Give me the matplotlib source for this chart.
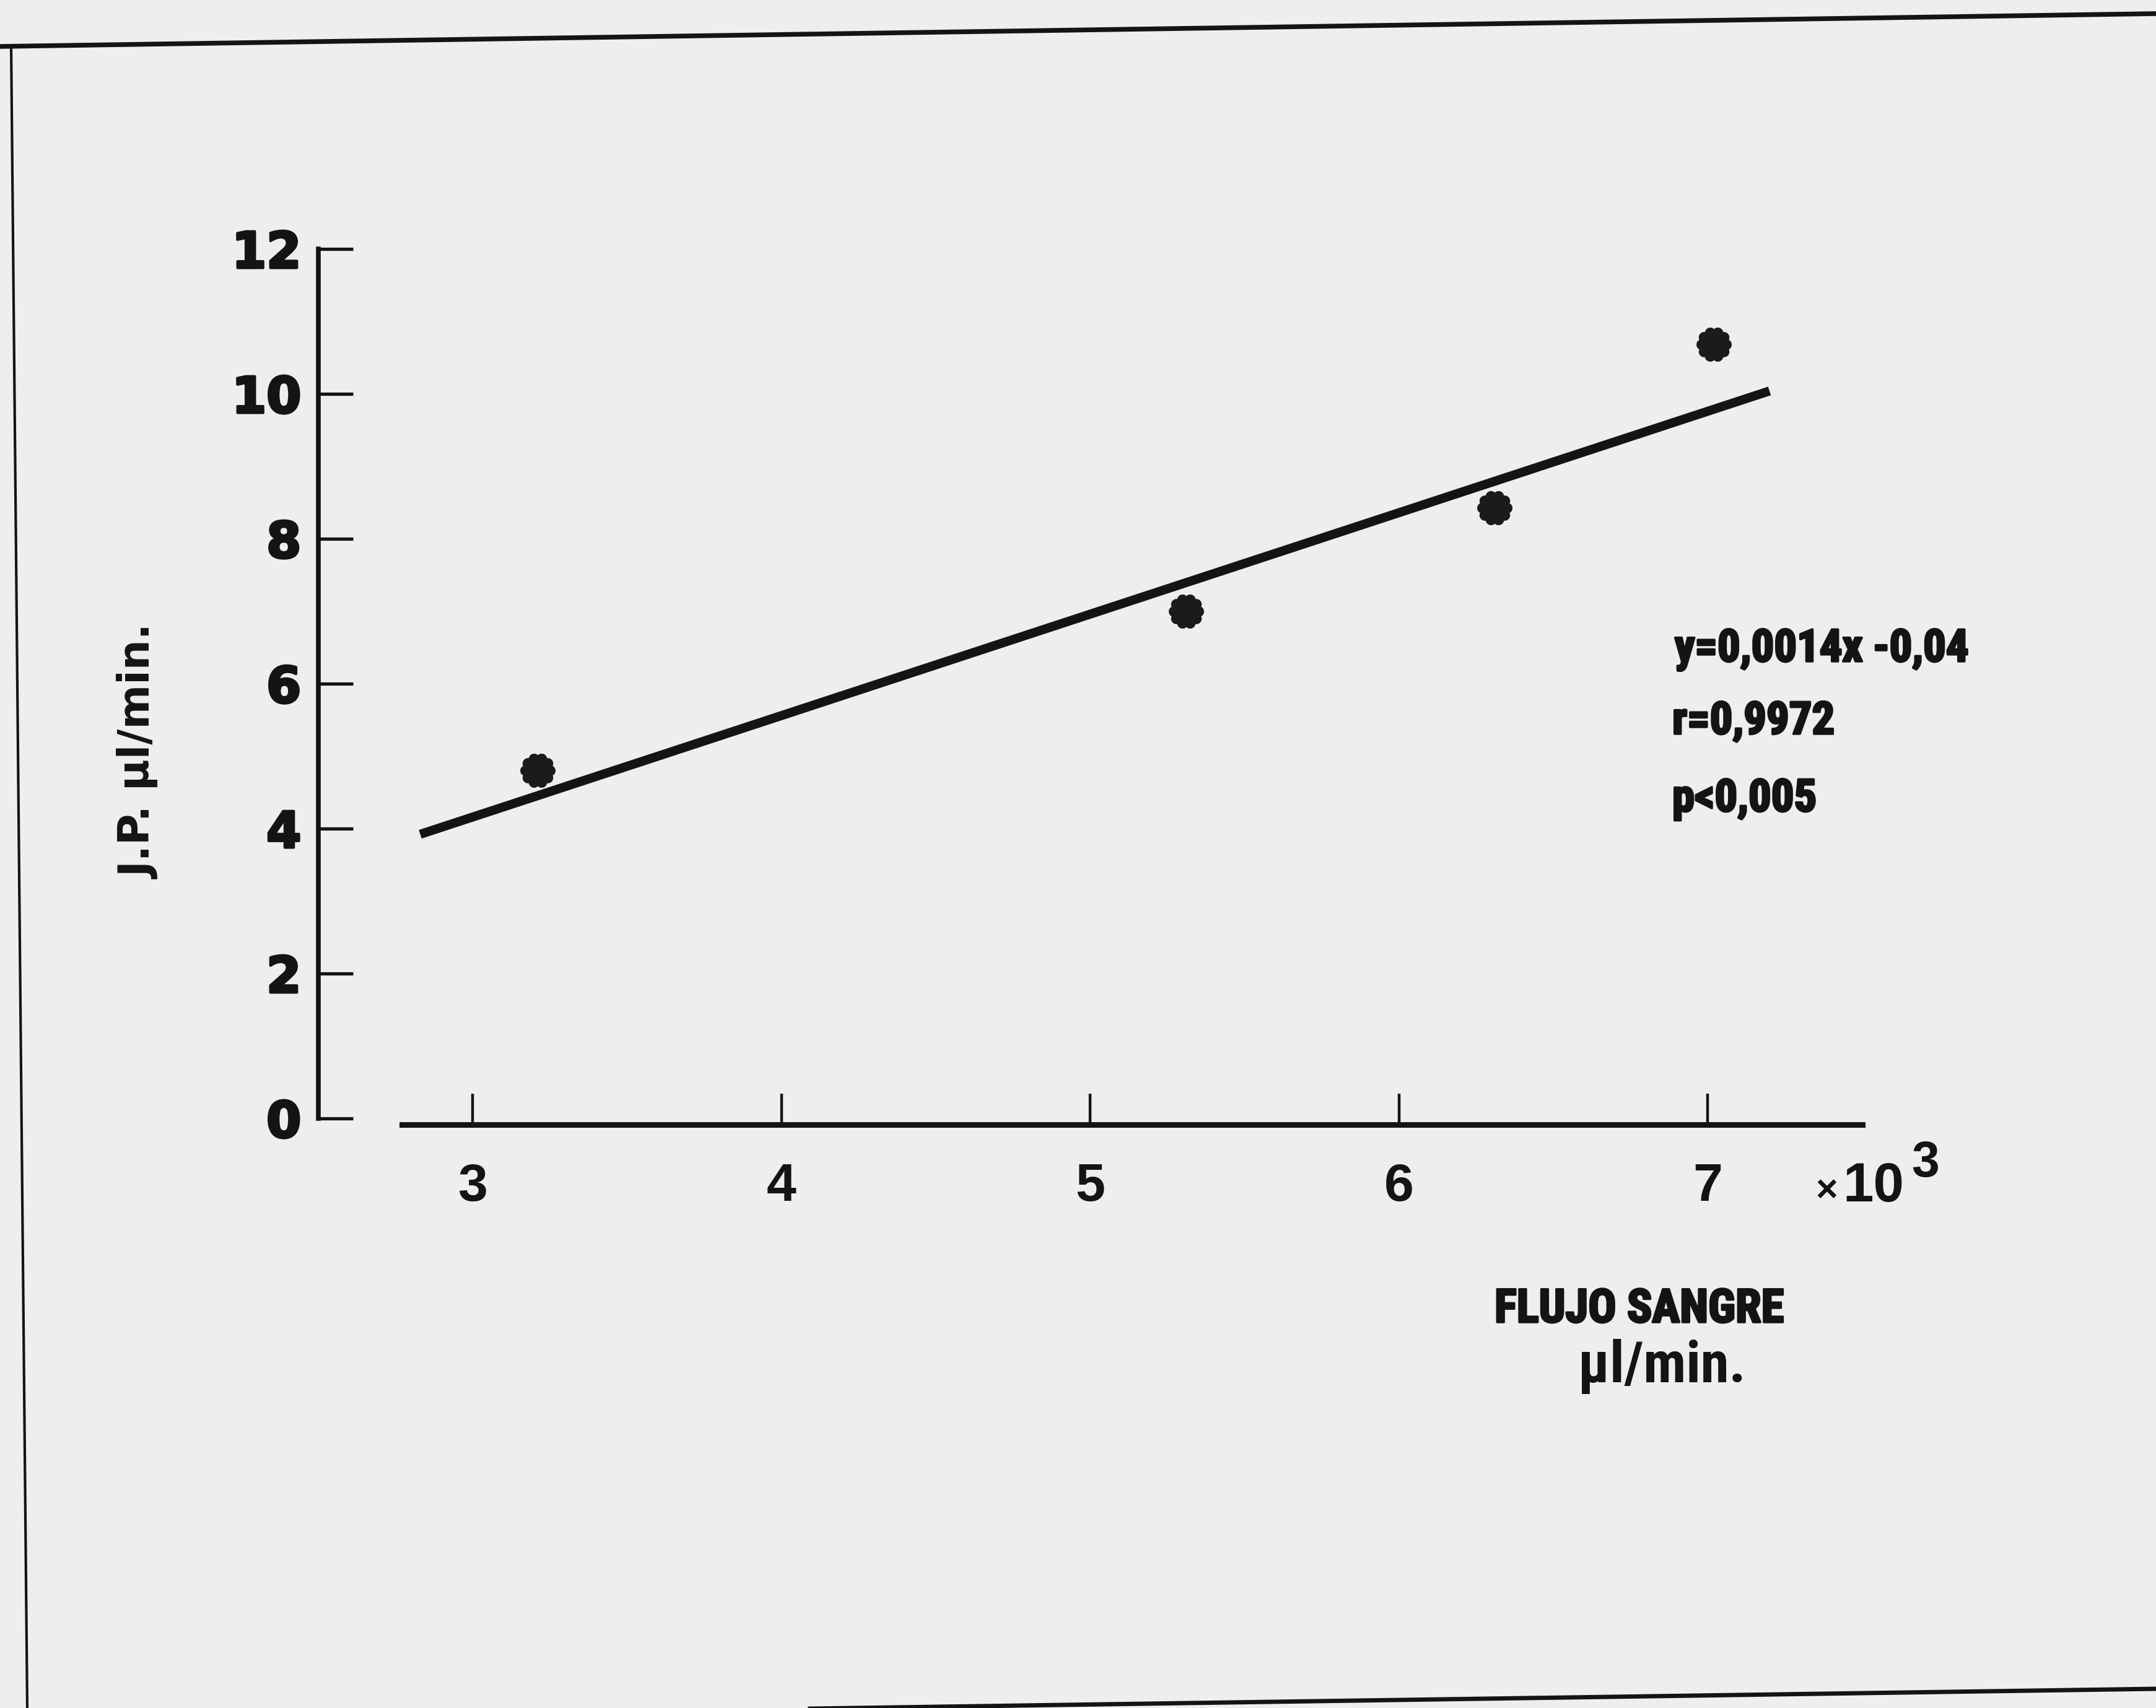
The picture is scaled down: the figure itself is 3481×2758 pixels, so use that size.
import numpy as np
import matplotlib
matplotlib.use("Agg")
import matplotlib.pyplot as plt
from matplotlib import font_manager
from matplotlib import patheffects as pe
from matplotlib.path import Path
from matplotlib.lines import Line2D

# ---- data -------------------------------------------------------------
flow_k = [3.21, 5.31, 6.31, 7.02]          # blood flow, x 10^3 ul/min
jp_rate = [4.80, 7.00, 8.43, 10.68]        # J.P. ul/min
slope, intercept = 0.0014, -0.04           # fitted line y = 0.0014x - 0.04
fit_span = [2830, 7200]                    # ul/min range of the fitted line
x_ticks = [3, 4, 5, 6, 7]
y_ticks = [0, 2, 4, 6, 8, 10, 12]
stats_lines = ["y=0,0014x -0,04", "r=0,9972", "p<0,005"]

W, H = 3481, 2758
BG = "#eeeeee"
INK = "#141414"

avail = {f.name for f in font_manager.fontManager.ttflist}


def pick(*names):
    for n in names:
        if n in avail:
            return n
    return "DejaVu Sans"


NARROW = pick("Liberation Sans Narrow", "Roboto Condensed", "Open Sans Condensed", "Roboto")
SANS = pick("Liberation Sans")

fig = plt.figure(figsize=(W / 100, H / 100), dpi=100, facecolor=BG)
renderer = fig.canvas.get_renderer()


def fx(px):
    return px / W


def fy(py):
    return 1 - py / H


def fit_text(x_px, y_px, s, span_px, vertical=False, **kw):
    """Place text and scale its font so the printed run spans span_px pixels."""
    t = fig.text(fx(x_px), fy(y_px), s, fontsize=50, **kw)
    ext = t.get_window_extent(renderer)
    size = ext.height if vertical else ext.width
    t.set_fontsize(50 * span_px / size)
    return t


heavy = [pe.withStroke(linewidth=2.5, foreground=INK)]

# page border of the sheet
for (x0, y0), (x1, y1), lw in [((0, 75), (3481, 22), 5.5),
                               ((18, 75), (44, 2758), 3.0),
                               ((1240, 2760), (3481, 2727), 5.0)]:
    fig.add_artist(Line2D([fx(x0), fx(x1)], [fy(y0), fy(y1)],
                          transform=fig.transFigure, color=INK, lw=lw))

# axes: x 2.5 .. 7.7 (x10^3), y -0.6 .. 12.1
left_px, right_px = 514, 514 + 5.2 * 498.5
top_px, bot_px = 1806 - 12.1 * 117, 1806 + 0.6 * 117
ax = fig.add_axes([fx(left_px), fy(bot_px), fx(right_px - left_px), (bot_px - top_px) / H])
ax.set_facecolor("none")
ax.set_xlim(2.5, 7.7)
ax.set_ylim(-0.6, 12.1)

for s in ("top", "right"):
    ax.spines[s].set_visible(False)
ax.spines["left"].set_bounds(0, 12)
ax.spines["left"].set_linewidth(5.5)
ax.spines["left"].set_color(INK)
ax.spines["bottom"].set_position(("data", -0.085))
ax.spines["bottom"].set_bounds(2.77, 7.5)
ax.spines["bottom"].set_linewidth(6.5)
ax.spines["bottom"].set_color(INK)

ax.set_xticks(x_ticks)
ax.set_xticklabels([str(t) for t in x_ticks], family=SANS, weight="bold", fontsize=62)
ax.set_yticks(y_ticks)
ax.set_yticklabels([str(t) for t in y_ticks], family="DejaVu Sans", weight="bold", fontsize=58)
for lab in ax.get_yticklabels():
    lab.set_path_effects([pe.withStroke(linewidth=3, foreground=INK)])
ax.tick_params(axis="x", direction="in", length=36, width=3.2, color=INK, pad=44, labelcolor=INK)
ax.tick_params(axis="y", direction="in", length=40, width=3.8, color=INK, pad=20, labelcolor=INK)

# regression line from its equation
xf = np.array(fit_span, dtype=float)
ax.plot(xf / 1000, slope * xf + intercept, color=INK, lw=10.5,
        solid_capstyle="butt", clip_on=False)

# scalloped star marker
th = np.linspace(0, 2 * np.pi, 241)
r = 0.84 + 0.16 * np.abs(np.cos(5 * th)) ** 0.6
verts = np.column_stack([r * np.cos(th), r * np.sin(th)])
flower = Path(verts, closed=True)
ax.plot(flow_k, jp_rate, linestyle="none", marker=flower, markersize=40,
        markerfacecolor="#1b1b1b", markeredgecolor="#1b1b1b", markeredgewidth=1,
        clip_on=False)

# statistics block: one size for all rows, set by the first row's width
first = fit_text(2704, 1068, stats_lines[0], 475, family=NARROW, weight="bold",
                 color=INK, ha="left", va="baseline", path_effects=heavy)
for txt, base in zip(stats_lines[1:], [1185, 1310]):
    fig.text(fx(2700), fy(base), txt, family=NARROW, weight="bold",
             fontsize=first.get_fontsize(), color=INK, ha="left", va="baseline",
             path_effects=heavy)

# x-axis multiplier and titles
fig.text(fx(2931), fy(1940), "\u00d7", family=SANS, weight="bold", fontsize=44,
         color=INK, ha="left", va="baseline")
fig.text(fx(2975), fy(1940), "10", family=SANS, weight="bold", fontsize=64,
         color=INK, ha="left", va="baseline")
fig.text(fx(3086), fy(1900), "3", family=SANS, weight="bold", fontsize=58,
         color=INK, ha="left", va="baseline")
fit_text(2413, 2135, "FLUJO SANGRE", 468, family=NARROW, weight="bold",
         color=INK, ha="left", va="baseline", path_effects=heavy)
fit_text(2548, 2232, "\u00b5l/min.", 271, family=NARROW, weight="bold",
         color=INK, ha="left", va="baseline")

# y-axis title
fit_text(225, 1214, "J.P. \u00b5l/min.", 411, vertical=True, family="DejaVu Sans",
         weight="bold", color=INK, rotation=90, ha="center", va="center")

fig.savefig("out.png", dpi=100, facecolor=BG)
